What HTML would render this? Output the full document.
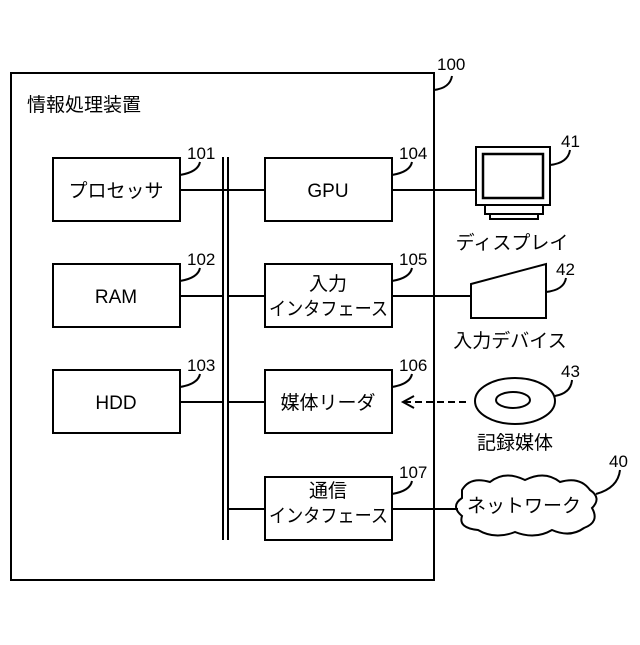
<!DOCTYPE html>
<html><head><meta charset="utf-8"><style>
html,body{margin:0;padding:0;background:#fff;}
svg text{font-family:"Liberation Sans","Noto Sans CJK JP",sans-serif;fill:#000;}
</style></head><body>
<svg width="640" height="640" viewBox="0 0 640 640" xmlns="http://www.w3.org/2000/svg">
<g fill="none" stroke="#000" stroke-width="2">
<rect x="11" y="73" width="423" height="507"/>
<path d="M434 90 Q450 88 452 76"/>
<rect x="53" y="158" width="127" height="63"/>
<rect x="53" y="264" width="127" height="63"/>
<rect x="53" y="370" width="127" height="63"/>
<rect x="265" y="158" width="127" height="63"/>
<rect x="265" y="264" width="127" height="63"/>
<rect x="265" y="370" width="127" height="63"/>
<rect x="265" y="477" width="127" height="63"/>
<line x1="223" y1="157" x2="223" y2="540"/>
<line x1="228" y1="157" x2="228" y2="540"/>
<line x1="180" y1="190" x2="265" y2="190"/>
<line x1="180" y1="296" x2="223" y2="296"/>
<line x1="228" y1="296" x2="265" y2="296"/>
<line x1="180" y1="402" x2="223" y2="402"/>
<line x1="228" y1="402" x2="265" y2="402"/>
<line x1="228" y1="509" x2="265" y2="509"/>
<line x1="392" y1="190" x2="476" y2="190"/>
<line x1="392" y1="296" x2="471" y2="296"/>
<line x1="392" y1="509" x2="458" y2="509"/>
<path d="M180 175 Q198 172 200 162"/>
<path d="M180 281 Q198 278 200 268"/>
<path d="M180 387 Q198 384 200 374"/>
<path d="M392 175 Q410 172 412 162"/>
<path d="M392 281 Q410 278 412 268"/>
<path d="M392 387 Q410 384 412 374"/>
<path d="M392 494 Q410 491 412 481"/>
<rect x="476" y="147" width="74" height="58"/>
<rect x="483" y="154" width="60" height="44" stroke-width="2.5"/>
<path d="M485 205 L485 214 L543 214 L543 205"/>
<path d="M490 214 L490 219 L538 219 L538 214"/>
<path d="M550 165 Q568 163 570 150"/>
<path d="M471 284 L546 264 L546 318 L471 318 Z"/>
<path d="M546 292 Q564 290 566 278"/>
<ellipse cx="515" cy="401" rx="40" ry="23"/>
<ellipse cx="513" cy="400" rx="17" ry="8"/>
<path d="M555 396 Q571 393 572 380"/>
<line x1="404" y1="402" x2="470" y2="402" stroke-dasharray="7,4"/>
<path d="M414 396 L403 402 L414 408"/>
<path d="M462 490 Q470 476 490 482 Q505 470 525 480 Q545 470 560 482 Q580 476 590 490 Q602 498 592 508 Q600 522 584 528 Q570 538 552 530 Q535 540 515 532 Q495 540 478 530 Q458 528 462 516 Q450 506 462 498 Z"/>
<path d="M596 494 Q618 488 620 470"/>
</g>
<g font-size="19">
<text x="27" y="111">情報処理装置</text>
<text x="116" y="197" text-anchor="middle">プロセッサ</text>
<text x="116" y="303" text-anchor="middle">RAM</text>
<text x="116" y="409" text-anchor="middle">HDD</text>
<text x="328" y="197" text-anchor="middle">GPU</text>
<text x="328" y="290" text-anchor="middle">入力</text>
<text x="269" y="315" textLength="119" lengthAdjust="spacingAndGlyphs">インタフェース</text>
<text x="328" y="409" text-anchor="middle">媒体リーダ</text>
<text x="328" y="497" text-anchor="middle">通信</text>
<text x="269" y="522" textLength="119" lengthAdjust="spacingAndGlyphs">インタフェース</text>
<text x="512" y="249" text-anchor="middle">ディスプレイ</text>
<text x="510" y="347" text-anchor="middle">入力デバイス</text>
<text x="515" y="449" text-anchor="middle">記録媒体</text>
<text x="524" y="512" text-anchor="middle">ネットワーク</text>
</g>
<g font-size="17">
<text x="437" y="70">100</text>
<text x="187" y="159">101</text>
<text x="187" y="265">102</text>
<text x="187" y="371">103</text>
<text x="399" y="159">104</text>
<text x="399" y="265">105</text>
<text x="399" y="371">106</text>
<text x="399" y="478">107</text>
<text x="561" y="147">41</text>
<text x="556" y="275">42</text>
<text x="561" y="377">43</text>
<text x="609" y="467">40</text>
</g>
</svg>
</body></html>
